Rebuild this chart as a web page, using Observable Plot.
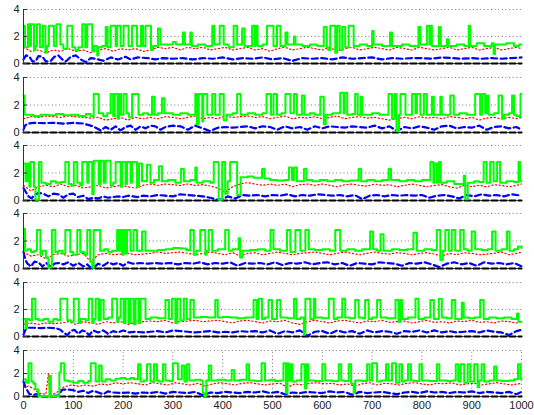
<!DOCTYPE html>
<html>
<head>
<meta charset="utf-8">
<script src="https://cdn.jsdelivr.net/npm/d3@7"></script>
<script src="https://cdn.jsdelivr.net/npm/@observablehq/plot@0.6"></script>
<style>
  html, body { margin: 0; padding: 0; background: #fff; }
  #fig { position: relative; width: 534px; height: 415px; overflow: hidden; }
  #fig svg { position: absolute; left: 0; overflow: visible; }
</style>
</head>
<body>
<div id="fig"></div>
<script>
const xTicks = [0, 100, 200, 300, 400, 500, 600, 700, 800, 900, 1000];
const yTicks = [0, 2, 4];
const black = [[0, 0], [1000, 0]];

// ---------- panel 1 ----------
const green1 = [[0,2.8],[3,1.2],[9,2.9],[13,1.3],[15,2.9],[21,1.0],[24,1.3],[27,2.9],[33,1.2],[39,2.8],[44,0.8],[47,1.3],[51,2.8],[61,1.3],[66,2.9],[74,1.4],[80,1.1],[88,2.8],[98,1.2],[104,1.0],[110,1.2],[118,2.9],[124,1.2],[128,2.9],[138,0.9],[142,1.3],[148,0.6],[150,1.2],[158,1.3],[165,2.7],[169,1.2],[175,2.8],[185,1.3],[188,2.8],[195,1.3],[201,2.8],[211,1.3],[218,2.8],[228,1.3],[236,2.8],[240,1.3],[245,2.8],[256,1.0],[260,1.3],[270,2.6],[275,1.4],[290,1.4],[300,1.6],[306,1.4],[320,2.3],[324,1.4],[335,2.3],[338,1.3],[350,1.4],[365,1.3],[379,2.8],[383,1.4],[394,2.8],[402,1.4],[412,1.2],[422,2.8],[429,1.4],[439,2.6],[444,1.3],[459,2.8],[464,1.3],[466,2.8],[470,1.3],[480,1.4],[489,2.8],[502,1.3],[509,2.8],[516,1.3],[526,2.3],[530,1.4],[543,2.0],[546,1.4],[560,1.3],[575,1.4],[590,1.3],[603,2.7],[609,1.2],[612,1.0],[616,2.8],[626,0.8],[630,2.8],[635,1.0],[640,2.7],[646,1.2],[653,2.8],[663,1.3],[675,1.4],[690,1.3],[700,2.4],[703,1.4],[720,1.3],[736,2.3],[740,1.3],[760,1.4],[775,1.3],[793,2.7],[797,1.4],[810,2.8],[815,1.4],[817,2.8],[820,1.3],[834,2.7],[838,1.3],[850,1.8],[854,1.3],[870,1.4],[885,1.3],[894,2.8],[897,1.3],[910,1.5],[925,1.3],[940,1.5],[944,0.7],[947,1.4],[955,1.4],[970,1.5],[985,1.3],[995,1.4],[1000,1.4]];
const red1 = [[0,1.2],[15,0.9],[30,1.0],[45,0.8],[60,1.0],[75,0.9],[90,1.1],[105,0.9],[120,1.0],[135,0.8],[150,1.0],[165,1.1],[180,0.9],[195,1.1],[210,1.0],[225,1.1],[240,0.9],[255,1.0],[270,1.2],[285,1.1],[300,1.2],[315,1.0],[330,1.2],[345,1.1],[360,1.2],[375,1.0],[390,1.1],[405,1.2],[420,1.0],[435,1.1],[450,1.2],[465,1.0],[480,1.1],[495,0.9],[510,1.1],[525,1.2],[540,1.0],[555,1.1],[570,1.2],[585,1.1],[600,1.0],[615,1.2],[630,0.9],[645,1.1],[660,1.2],[675,1.0],[690,1.1],[705,1.2],[720,1.1],[735,1.0],[750,1.2],[765,1.1],[780,1.0],[795,1.2],[810,1.1],[825,1.0],[840,1.1],[855,1.2],[870,1.0],[885,1.1],[900,1.2],[915,1.0],[930,1.1],[945,1.2],[960,1.0],[975,1.1],[990,1.2],[1000,1.1]];
const blue1 = [[0,0.3],[5,0.6],[12,0.5],[18,0.15],[25,0.2],[30,0.55],[38,0.5],[45,0.15],[55,0.2],[62,0.5],[70,0.6],[78,0.3],[85,0.15],[95,0.5],[105,0.6],[115,0.3],[125,0.1],[135,0.4],[145,0.35],[160,0.2],[175,0.45],[190,0.3],[205,0.5],[215,0.3],[230,0.45],[250,0.4],[265,0.3],[280,0.4],[300,0.35],[320,0.4],[340,0.3],[360,0.4],[380,0.35],[400,0.45],[420,0.3],[440,0.4],[460,0.35],[480,0.45],[500,0.3],[520,0.4],[540,0.2],[560,0.4],[580,0.35],[600,0.4],[620,0.3],[640,0.45],[660,0.35],[680,0.4],[700,0.45],[720,0.3],[740,0.4],[760,0.35],[780,0.4],[800,0.4],[820,0.35],[840,0.45],[860,0.4],[880,0.35],[900,0.4],[920,0.35],[940,0.4],[960,0.35],[980,0.4],[1000,0.45]];

// ---------- panel 2 ----------
const green2 = [[0,2.7],[2,1.3],[10,1.3],[20,1.2],[35,1.3],[50,1.25],[65,1.35],[80,1.25],[95,1.3],[110,1.2],[125,1.35],[135,1.2],[141,2.8],[151,1.4],[160,1.2],[168,1.4],[175,2.8],[180,1.2],[183,2.8],[189,1.0],[192,2.8],[196,1.3],[201,2.8],[207,1.4],[212,1.1],[218,2.8],[231,1.3],[240,1.4],[250,1.3],[258,2.6],[263,1.3],[270,1.4],[278,2.5],[283,1.4],[300,1.3],[315,1.4],[330,1.3],[345,2.8],[348,0.6],[352,2.8],[359,0.8],[361,2.8],[369,1.3],[379,2.8],[385,1.3],[394,2.8],[402,0.9],[408,1.3],[420,1.4],[429,2.8],[436,1.3],[450,1.4],[465,1.3],[480,1.4],[488,2.8],[497,1.3],[502,2.8],[509,1.3],[518,1.4],[526,2.8],[536,1.4],[543,2.8],[549,1.3],[559,2.7],[564,1.3],[575,1.4],[585,1.3],[596,2.6],[603,0.6],[607,1.3],[620,1.4],[636,2.9],[643,1.4],[645,2.9],[650,1.3],[660,1.35],[666,2.8],[671,1.3],[677,2.6],[680,1.3],[700,1.4],[715,1.3],[733,2.8],[740,1.0],[745,2.8],[749,0.1],[754,1.3],[757,2.8],[767,1.3],[780,2.8],[787,1.4],[790,2.8],[797,1.3],[804,2.8],[810,1.3],[820,2.6],[824,1.3],[837,2.6],[840,1.3],[857,2.7],[864,1.3],[875,1.4],[890,1.3],[907,2.8],[917,1.3],[921,2.8],[927,1.4],[931,2.7],[934,1.3],[945,1.4],[954,2.7],[961,1.0],[965,1.3],[975,1.4],[981,2.7],[985,1.3],[990,1.2],[998,2.8],[1000,2.8]];
const red2 = [[0,1.0],[15,1.15],[30,1.1],[45,1.2],[60,1.15],[75,1.1],[90,1.2],[105,1.15],[120,1.1],[135,1.05],[150,1.1],[165,0.9],[180,1.0],[195,1.1],[210,0.9],[225,1.1],[240,1.0],[255,1.1],[270,1.0],[285,1.15],[300,1.1],[315,1.0],[330,1.1],[345,1.2],[360,1.0],[375,1.1],[390,1.0],[405,1.2],[420,1.1],[435,1.15],[450,1.2],[465,1.1],[480,1.15],[495,1.0],[510,1.1],[525,1.2],[540,1.0],[555,1.1],[570,1.05],[585,1.15],[600,1.0],[615,1.1],[630,1.2],[645,1.0],[660,1.1],[675,1.15],[690,1.05],[705,1.1],[720,1.0],[735,0.9],[750,1.0],[765,1.1],[780,1.0],[795,1.15],[810,1.05],[825,1.1],[840,1.0],[855,1.15],[870,1.1],[885,1.0],[900,1.1],[915,0.9],[930,1.05],[945,1.1],[960,1.0],[975,1.1],[990,1.0],[1000,1.1]];
const blue2 = [[0,0.2],[3,0.5],[8,0.65],[20,0.7],[40,0.68],[60,0.7],[80,0.65],[100,0.7],[120,0.65],[135,0.5],[145,0.35],[155,0.15],[165,0.4],[175,0.2],[185,0.45],[195,0.15],[205,0.4],[215,0.5],[225,0.2],[235,0.45],[245,0.3],[255,0.5],[265,0.45],[275,0.2],[285,0.4],[300,0.5],[315,0.45],[330,0.2],[345,0.5],[360,0.3],[375,0.1],[390,0.35],[405,0.4],[420,0.35],[435,0.4],[450,0.45],[465,0.3],[480,0.45],[495,0.4],[510,0.2],[525,0.45],[540,0.3],[555,0.4],[570,0.2],[585,0.45],[600,0.3],[615,0.45],[630,0.4],[645,0.35],[660,0.45],[675,0.4],[690,0.35],[705,0.5],[720,0.3],[735,0.45],[750,0.1],[765,0.4],[780,0.3],[795,0.45],[810,0.35],[825,0.2],[840,0.45],[855,0.5],[870,0.3],[885,0.4],[900,0.35],[915,0.5],[930,0.2],[945,0.4],[960,0.45],[975,0.3],[990,0.4],[1000,0.2]];

// ---------- panel 3 ----------
const green3 = [[0,2.7],[4,1.4],[8,2.7],[12,1.0],[14,2.8],[21,1.0],[24,0.05],[28,0.05],[31,2.8],[36,1.3],[45,1.2],[55,1.4],[65,1.3],[75,1.35],[84,2.8],[91,1.2],[96,1.1],[101,2.8],[108,1.3],[114,1.1],[118,2.8],[128,1.3],[131,2.8],[138,0.45],[141,2.9],[151,1.2],[155,2.9],[161,1.3],[165,2.9],[175,1.1],[180,1.3],[185,2.8],[195,1.0],[198,2.8],[205,1.2],[208,2.8],[215,1.3],[218,2.8],[228,1.0],[232,2.7],[238,1.4],[248,2.6],[255,1.3],[262,1.5],[272,2.5],[278,1.4],[290,1.5],[305,1.3],[316,2.3],[322,1.4],[335,1.5],[345,2.4],[348,1.3],[360,1.4],[375,1.3],[382,2.8],[392,0.05],[399,2.8],[405,0.5],[410,1.4],[415,2.8],[429,0.4],[436,1.7],[450,1.75],[462,1.65],[479,2.3],[484,1.6],[495,1.5],[510,1.45],[525,1.5],[533,2.4],[539,1.5],[543,2.4],[549,1.4],[563,2.3],[568,1.5],[580,1.4],[595,1.5],[610,1.4],[625,1.5],[640,1.4],[655,1.45],[673,2.3],[678,1.4],[690,1.5],[705,1.4],[720,1.5],[733,2.3],[738,1.5],[755,1.4],[770,1.5],[785,1.4],[800,1.5],[817,2.8],[823,1.3],[825,2.7],[830,1.3],[834,2.8],[838,1.3],[850,1.4],[865,1.2],[884,1.8],[887,0.1],[892,1.3],[905,1.4],[915,1.35],[924,2.8],[930,1.3],[937,2.8],[944,1.4],[951,2.8],[957,1.3],[970,1.4],[985,1.35],[994,2.8],[997,1.4],[1000,1.4]];
const red3 = [[0,1.1],[15,0.7],[30,1.0],[45,1.1],[60,1.0],[75,1.2],[90,1.0],[105,1.1],[120,0.9],[135,1.0],[150,1.1],[165,0.9],[180,1.0],[195,1.1],[210,1.0],[225,0.9],[240,1.1],[255,1.2],[270,1.1],[285,1.2],[300,1.15],[315,1.1],[330,1.2],[345,1.1],[360,1.15],[375,1.05],[390,0.9],[405,0.6],[420,1.0],[435,1.2],[450,1.3],[465,1.2],[480,1.1],[495,1.2],[510,1.1],[525,1.2],[540,1.0],[555,1.15],[570,1.2],[585,1.1],[600,1.2],[615,1.1],[630,1.0],[645,1.15],[660,1.2],[675,1.1],[690,1.05],[705,1.2],[720,1.1],[735,1.15],[750,1.0],[765,1.1],[780,1.2],[795,1.1],[810,1.0],[825,1.1],[840,1.15],[855,1.0],[870,0.9],[885,1.1],[900,1.0],[915,1.1],[930,1.0],[945,1.15],[960,1.1],[975,1.0],[990,1.1],[1000,1.2]];
const blue3 = [[0,0.9],[5,0.6],[10,0.3],[16,0.15],[22,0.4],[30,0.55],[40,0.5],[50,0.3],[60,0.5],[70,0.45],[80,0.2],[90,0.45],[100,0.5],[110,0.25],[120,0.35],[130,0.1],[140,0.2],[150,0.15],[160,0.3],[170,0.2],[180,0.25],[190,0.3],[200,0.25],[210,0.35],[220,0.3],[230,0.25],[240,0.35],[255,0.3],[270,0.4],[285,0.35],[300,0.3],[315,0.45],[330,0.4],[345,0.35],[360,0.3],[375,0.2],[390,0.05],[400,0.1],[410,0.3],[425,0.15],[440,0.4],[455,0.35],[470,0.4],[485,0.3],[500,0.4],[515,0.35],[530,0.45],[545,0.3],[560,0.4],[575,0.35],[590,0.45],[605,0.4],[620,0.35],[635,0.4],[650,0.3],[665,0.4],[680,0.1],[695,0.35],[710,0.4],[725,0.3],[740,0.4],[755,0.35],[770,0.4],[785,0.35],[800,0.4],[815,0.2],[830,0.35],[845,0.4],[860,0.3],[875,0.15],[890,0.4],[905,0.3],[920,0.45],[935,0.35],[950,0.4],[965,0.3],[980,0.45],[1000,0.35]];

// ---------- panel 4 ----------
const green4 = [[0,2.9],[3,1.3],[8,1.4],[15,1.2],[22,1.3],[27,2.8],[34,1.0],[38,1.3],[45,0.8],[50,0.05],[54,0.1],[57,2.8],[64,1.2],[70,1.3],[78,1.1],[84,2.8],[94,1.2],[100,1.0],[108,2.8],[114,1.2],[122,1.0],[128,2.8],[134,0.5],[138,0.05],[141,2.8],[154,1.3],[162,1.4],[170,1.2],[178,1.3],[188,2.8],[191,1.3],[195,2.8],[198,1.0],[201,2.8],[205,1.1],[208,2.8],[215,1.3],[221,2.8],[228,1.3],[238,2.7],[245,1.3],[255,1.3],[270,1.35],[285,1.4],[300,1.5],[315,1.45],[327,1.35],[335,2.8],[342,1.0],[347,1.3],[355,2.8],[365,1.0],[368,1.3],[372,2.8],[379,1.3],[390,1.4],[405,2.8],[412,1.3],[420,1.4],[432,2.2],[435,0.8],[440,1.3],[455,1.35],[470,1.4],[485,1.3],[496,2.8],[502,1.4],[515,1.3],[529,2.8],[536,1.2],[546,2.8],[556,1.3],[566,2.8],[573,1.4],[585,1.35],[600,1.4],[615,1.3],[626,2.8],[636,1.3],[650,1.4],[665,1.3],[680,1.4],[696,2.7],[702,1.4],[710,1.3],[717,2.5],[723,1.3],[740,1.4],[755,1.35],[770,1.4],[783,2.6],[790,1.3],[805,1.4],[820,1.35],[830,2.8],[837,0.6],[842,1.3],[847,2.8],[854,1.3],[860,2.8],[867,1.3],[877,2.8],[884,1.4],[892,1.3],[900,2.7],[907,1.4],[920,1.35],[932,1.4],[941,2.7],[948,1.3],[960,1.4],[971,2.7],[976,1.3],[985,1.4],[993,1.6],[1000,1.5]];
const red4 = [[0,1.2],[15,0.9],[30,1.0],[45,0.7],[60,1.0],[75,1.1],[90,0.9],[105,1.0],[120,1.1],[135,0.5],[150,1.0],[165,1.1],[180,1.0],[195,1.05],[210,1.1],[225,1.0],[240,1.05],[255,1.1],[270,1.2],[285,1.1],[300,1.15],[315,1.2],[330,1.1],[345,1.0],[360,1.1],[375,1.2],[390,1.1],[405,1.0],[420,1.15],[435,0.9],[450,1.1],[465,1.15],[480,1.0],[495,1.1],[510,1.2],[525,1.1],[540,1.0],[555,1.1],[570,1.15],[585,1.2],[600,1.1],[615,1.0],[630,1.1],[645,1.2],[660,1.1],[675,1.0],[690,1.1],[705,1.2],[720,1.1],[735,1.05],[750,1.15],[765,1.1],[780,1.0],[795,1.1],[810,1.15],[825,1.05],[840,0.9],[855,1.1],[870,1.0],[885,1.15],[900,1.1],[915,1.0],[930,1.05],[945,1.1],[960,1.2],[975,1.0],[990,1.1],[1000,1.2]];
const blue4 = [[0,1.2],[4,0.6],[8,0.35],[15,0.15],[22,0.5],[30,0.45],[38,0.15],[46,0.4],[55,0.1],[62,0.35],[70,0.4],[80,0.3],[90,0.45],[100,0.2],[110,0.4],[120,0.15],[128,0.3],[135,0.05],[142,0.1],[150,0.35],[160,0.2],[170,0.45],[180,0.3],[190,0.4],[200,0.2],[210,0.45],[220,0.35],[235,0.4],[250,0.35],[265,0.4],[280,0.35],[295,0.4],[310,0.3],[325,0.4],[340,0.35],[355,0.45],[370,0.3],[385,0.4],[400,0.35],[415,0.45],[430,0.2],[445,0.4],[460,0.35],[475,0.4],[490,0.3],[505,0.45],[520,0.25],[535,0.4],[550,0.35],[565,0.45],[580,0.3],[595,0.4],[610,0.45],[625,0.3],[640,0.4],[655,0.2],[670,0.4],[685,0.35],[700,0.3],[715,0.45],[730,0.4],[745,0.35],[760,0.2],[775,0.4],[790,0.35],[805,0.45],[820,0.3],[835,0.1],[850,0.35],[865,0.45],[880,0.3],[895,0.4],[910,0.2],[925,0.45],[940,0.35],[955,0.4],[970,0.3],[985,0.4],[1000,0.15]];

// ---------- panel 5 ----------
const green5 = [[0,1.3],[4,0.6],[7,1.3],[12,1.2],[17,2.8],[24,1.3],[30,1.2],[40,1.3],[50,1.1],[60,1.3],[68,1.2],[74,2.8],[88,1.2],[95,1.1],[101,2.8],[111,1.0],[115,1.3],[125,1.2],[131,2.8],[138,1.0],[141,1.3],[145,2.8],[151,1.2],[155,2.7],[161,1.3],[170,1.4],[178,2.8],[188,1.1],[191,1.4],[195,2.8],[201,1.0],[205,2.8],[211,1.0],[215,2.8],[221,0.9],[225,2.8],[231,1.0],[235,2.8],[245,1.3],[255,1.4],[270,1.35],[285,2.7],[292,1.3],[298,2.8],[305,1.0],[309,2.8],[315,1.2],[322,2.8],[328,1.3],[335,2.7],[342,1.4],[355,1.45],[370,1.4],[385,2.7],[390,1.4],[400,1.45],[415,1.4],[430,1.35],[445,1.4],[462,2.7],[468,1.3],[472,2.8],[479,1.3],[485,1.4],[492,2.7],[499,1.3],[509,2.7],[516,1.4],[530,1.35],[543,2.8],[548,1.3],[556,1.4],[563,0.15],[566,2.8],[576,1.3],[583,2.8],[586,1.4],[600,1.35],[613,2.8],[623,1.3],[630,1.4],[640,2.8],[646,1.4],[655,1.35],[666,2.7],[673,1.4],[680,1.35],[686,2.7],[693,1.3],[700,1.4],[710,2.7],[717,1.4],[730,1.35],[747,2.7],[753,1.1],[757,2.7],[760,1.3],[772,1.4],[787,2.8],[793,1.3],[805,1.4],[817,2.7],[824,1.3],[834,2.8],[840,1.4],[850,1.35],[860,2.7],[867,1.3],[880,2.5],[884,1.4],[895,1.35],[905,1.4],[917,2.7],[924,1.3],[935,1.4],[950,1.35],[965,1.4],[980,1.3],[991,1.7],[994,1.1],[1000,1.1]];
const red5 = [[0,0.9],[15,1.0],[30,0.9],[45,1.0],[60,0.95],[75,1.0],[90,1.1],[105,0.9],[120,1.1],[135,1.0],[150,0.9],[165,1.1],[180,1.0],[195,1.1],[210,0.9],[225,1.05],[240,1.1],[255,1.15],[270,1.1],[285,1.2],[300,1.0],[315,1.1],[330,1.15],[345,1.2],[360,1.1],[375,1.15],[390,1.2],[405,1.1],[420,1.0],[435,1.15],[450,1.2],[465,1.1],[480,1.0],[495,1.15],[510,1.1],[525,1.2],[540,1.0],[555,0.9],[570,1.1],[585,1.2],[600,1.1],[615,1.0],[630,1.15],[645,1.2],[660,1.1],[675,1.0],[690,1.15],[705,1.1],[720,1.2],[735,1.05],[750,1.1],[765,1.15],[780,1.0],[795,1.1],[810,1.2],[825,1.05],[840,1.1],[855,1.0],[870,1.15],[885,1.1],[900,1.2],[915,1.05],[930,1.1],[945,1.0],[960,1.15],[975,1.1],[990,1.0],[1000,1.1]];
const blue5 = [[0,0.15],[4,0.5],[8,0.65],[20,0.65],[35,0.62],[50,0.65],[65,0.62],[74,0.5],[80,0.3],[88,0.1],[95,0.4],[102,0.5],[110,0.2],[118,0.45],[125,0.35],[132,0.1],[140,0.45],[150,0.3],[160,0.45],[170,0.2],[180,0.4],[190,0.3],[200,0.45],[212,0.3],[225,0.35],[240,0.3],[255,0.35],[270,0.4],[285,0.3],[300,0.45],[315,0.4],[330,0.35],[345,0.3],[360,0.35],[375,0.4],[390,0.3],[405,0.35],[420,0.3],[435,0.4],[450,0.35],[465,0.4],[480,0.3],[495,0.45],[510,0.2],[525,0.4],[540,0.3],[555,0.45],[570,0.05],[585,0.35],[600,0.4],[615,0.2],[630,0.45],[645,0.3],[660,0.4],[675,0.2],[690,0.45],[705,0.3],[720,0.4],[735,0.35],[750,0.2],[765,0.4],[780,0.35],[795,0.45],[810,0.3],[825,0.45],[840,0.3],[855,0.4],[870,0.3],[885,0.35],[900,0.4],[915,0.3],[930,0.45],[945,0.35],[960,0.3],[975,0.1],[990,0.4],[1000,0.5]];

// ---------- panel 6 ----------
const green6 = [[0,1.5],[5,1.2],[10,2.9],[16,1.3],[20,1.1],[24,0.6],[30,0.05],[50,0.05],[52,1.8],[55,0.05],[70,0.05],[72,2.1],[75,2.9],[82,1.4],[90,1.3],[100,1.2],[110,1.35],[120,1.2],[130,1.35],[135,2.9],[145,1.3],[152,2.7],[157,1.3],[165,1.5],[175,1.4],[185,1.55],[195,1.6],[205,1.5],[215,1.6],[222,1.5],[230,2.8],[235,1.3],[242,1.4],[248,2.8],[255,1.3],[262,2.8],[268,1.4],[272,1.3],[280,2.8],[285,1.4],[292,1.35],[300,2.9],[310,1.5],[318,2.7],[323,1.3],[328,2.8],[333,1.4],[345,1.45],[355,1.4],[360,0.3],[363,0.05],[367,1.4],[372,2.7],[377,1.4],[390,1.45],[405,1.4],[418,2.3],[423,1.4],[435,1.45],[448,2.8],[453,1.4],[465,1.35],[478,2.9],[485,1.4],[495,1.45],[505,1.35],[515,1.4],[522,2.9],[527,0.3],[530,2.9],[532,1.4],[536,2.8],[540,1.3],[548,1.4],[558,2.8],[565,0.7],[568,2.8],[572,1.4],[585,1.35],[600,2.8],[606,1.4],[620,1.35],[633,2.8],[638,1.4],[645,1.35],[653,2.8],[658,1.1],[663,0.3],[666,1.4],[680,1.35],[690,2.8],[695,1.4],[700,2.9],[710,1.3],[718,1.4],[728,2.8],[733,1.4],[740,2.9],[748,1.2],[755,2.8],[760,1.3],[765,1.4],[772,2.8],[778,1.4],[785,1.35],[795,2.8],[800,1.4],[815,1.35],[830,2.8],[835,1.4],[850,1.35],[860,1.4],[868,2.8],[873,1.3],[878,2.8],[885,1.2],[892,2.8],[897,1.3],[905,2.8],[912,0.8],[915,1.4],[920,2.8],[925,1.3],[935,1.4],[945,2.6],[950,1.4],[960,1.35],[975,1.4],[985,1.5],[993,2.8],[998,1.5],[1000,1.5]];
const red6 = [[0,0.8],[10,0.9],[20,0.7],[30,0.3],[45,0.2],[50,2.0],[53,0.2],[65,0.3],[80,0.8],[95,1.0],[110,0.9],[125,1.0],[140,0.9],[155,1.1],[170,1.0],[185,1.2],[200,1.1],[215,1.2],[230,1.1],[245,1.0],[260,1.2],[275,1.1],[290,1.0],[305,1.2],[320,1.1],[335,1.0],[350,1.15],[365,0.9],[380,1.1],[395,1.2],[410,1.1],[425,1.0],[440,1.15],[455,1.2],[470,1.1],[485,1.0],[500,1.1],[515,1.15],[530,0.8],[545,1.1],[560,1.0],[575,1.15],[590,1.2],[605,1.1],[620,1.15],[635,1.0],[650,1.1],[665,0.9],[680,1.1],[695,1.2],[710,1.0],[725,1.15],[740,1.1],[755,1.0],[770,1.15],[785,1.2],[800,1.1],[815,1.0],[830,1.15],[845,1.1],[860,1.2],[875,1.0],[890,1.1],[905,1.15],[920,1.0],[935,1.1],[950,1.2],[965,1.1],[980,1.0],[1000,1.15]];
const blue6 = [[0,1.3],[4,0.8],[8,0.5],[12,0.2],[20,0.15],[28,0.2],[35,0.05],[45,0.02],[60,0.05],[70,0.1],[78,0.6],[90,0.6],[100,0.55],[110,0.4],[120,0.5],[130,0.3],[140,0.5],[150,0.35],[160,0.2],[170,0.45],[180,0.35],[195,0.3],[210,0.35],[225,0.25],[240,0.35],[255,0.3],[270,0.4],[285,0.25],[300,0.4],[315,0.35],[330,0.3],[345,0.4],[360,0.1],[375,0.35],[390,0.3],[405,0.4],[420,0.35],[435,0.3],[450,0.4],[465,0.35],[480,0.45],[495,0.3],[510,0.4],[525,0.2],[540,0.35],[555,0.3],[570,0.4],[585,0.35],[600,0.3],[615,0.45],[630,0.35],[645,0.4],[660,0.15],[675,0.4],[690,0.3],[705,0.35],[720,0.4],[735,0.3],[750,0.2],[765,0.35],[780,0.4],[795,0.3],[810,0.45],[825,0.35],[840,0.4],[855,0.3],[870,0.4],[885,0.35],[900,0.45],[915,0.3],[930,0.4],[945,0.35],[960,0.3],[975,0.4],[990,0.2],[1000,0.4]];

const panels = [
  {top: 9,   bottom: 63,  green: green1, red: red1, blue: blue1},
  {top: 77,  bottom: 132, green: green2, red: red2, blue: blue2},
  {top: 145, bottom: 200, green: green3, red: red3, blue: blue3},
  {top: 213, bottom: 268, green: green4, red: red4, blue: blue4},
  {top: 282, bottom: 336, green: green5, red: red5, blue: blue5},
  {top: 350, bottom: 396, green: green6, red: red6, blue: blue6, last: true}
];

const fig = document.getElementById("fig");
const X = d => d[0], Y = d => d[1];
const gridStyle = {stroke: "#7a7a7a", strokeDasharray: "1,2.6", strokeWidth: 1};
const intFmt = d3.format("d");

for (const p of panels) {
  const mt = 6, mb = p.last ? 20 : 6;
  const marks = [
    Plot.ruleY([2, 4], gridStyle)
  ];
  if (p.last) marks.push(Plot.ruleX(xTicks.slice(1), {...gridStyle, y1: 0, y2: 4}));
  marks.push(
    Plot.ruleY([0], {stroke: "#888", strokeWidth: 1.2}),
    Plot.line(black, {x: X, y: Y, stroke: "#000", strokeWidth: 2.2, strokeDasharray: "6,3"}),
    Plot.line(p.blue, {x: X, y: Y, stroke: "#0000ff", strokeWidth: 2.2, strokeDasharray: "6,3.5"}),
    Plot.line(p.red, {x: X, y: Y, stroke: "#ff0000", strokeWidth: 1.2, strokeDasharray: "1.2,2.5"}),
    Plot.line(p.green, {x: X, y: Y, stroke: "#00ff00", strokeWidth: 2, curve: "step-after"}),
    Plot.ruleX([0], {y1: 0, y2: 4, stroke: "#333", strokeWidth: 1}),
    Plot.ruleY(yTicks, {x1: 0, x2: 8, stroke: "#333", strokeWidth: 1}),
    Plot.axisY({ticks: yTicks, tickSize: 0, tickPadding: 4, fontSize: 11, tickFormat: intFmt})
  );
  if (p.last) marks.push(Plot.axisX({ticks: xTicks, tickSize: 0, tickPadding: 5, fontSize: 11, tickFormat: intFmt}));
  const svg = Plot.plot({
    width: 534,
    height: (p.bottom - p.top) + mt + mb,
    marginLeft: 23,
    marginRight: 13,
    marginTop: mt,
    marginBottom: mb,
    x: {domain: [0, 1000], axis: null},
    y: {domain: [0, 4], axis: null},
    style: {fontFamily: "'Liberation Sans', Arial, sans-serif", fontSize: "11px", color: "#222", background: "transparent", overflow: "visible"},
    marks
  });
  svg.style.top = (p.top - mt) + "px";
  fig.appendChild(svg);
}
</script>
</body>
</html>
